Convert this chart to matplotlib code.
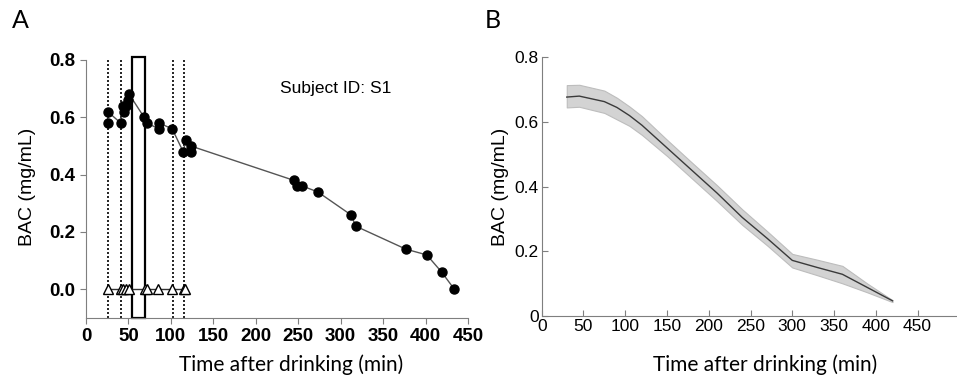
import matplotlib
matplotlib.use("Agg")
import matplotlib.pyplot as plt
from matplotlib.patches import Rectangle

# ---------------- Panel A data ----------------
bac_time = [25.5, 25.5, 41, 43, 45, 47, 49, 51, 68.5, 71.5, 86, 86, 101.5,
            114.5, 117.5, 123.5, 123.5, 245, 249, 255, 273, 312, 318, 377,
            401.5, 419, 434]
bac_value = [0.58, 0.62, 0.58, 0.64, 0.62, 0.64, 0.66, 0.68, 0.60, 0.58, 0.56,
             0.58, 0.56, 0.48, 0.52, 0.48, 0.50, 0.38, 0.36, 0.36, 0.34, 0.26,
             0.22, 0.14, 0.12, 0.06, 0.0]
tri_time = [26, 41, 44, 47, 51, 69, 72, 85, 101, 115.5, 117]
tri_value = [0, 0, 0, 0, 0, 0, 0, 0, 0, 0, 0]
event_lines = [25.5, 41, 102, 115]
drink_start, drink_end = 54, 69
subject_label = "Subject ID: S1"

# ---------------- Panel B data ----------------
mean_time = [30, 45, 75, 90, 105, 120, 150, 180, 210, 240, 270, 300, 330, 360,
             390, 420]
mean_bac = [0.677, 0.680, 0.663, 0.645, 0.620, 0.590, 0.520, 0.450, 0.380,
            0.305, 0.240, 0.172, 0.150, 0.129, 0.088, 0.047]
upper_bac = [0.714, 0.715, 0.697, 0.675, 0.648, 0.618, 0.545, 0.474, 0.404,
             0.330, 0.262, 0.192, 0.174, 0.155, 0.100, 0.049]
lower_bac = [0.645, 0.647, 0.628, 0.608, 0.588, 0.560, 0.495, 0.425, 0.355,
             0.282, 0.218, 0.150, 0.126, 0.101, 0.073, 0.043]

xticks = [0, 50, 100, 150, 200, 250, 300, 350, 400, 450]
yticks_a = [0.0, 0.2, 0.4, 0.6, 0.8]
yticks_b = [0, 0.2, 0.4, 0.6, 0.8]

W, H = 957, 380
fig = plt.figure(figsize=(W / 100, H / 100), dpi=100)

def box(l, r, t, b):
    return [l / W, 1 - b / H, (r - l) / W, (b - t) / H]

axA = fig.add_axes(box(86, 468, 60, 318))
axB = fig.add_axes(box(541.7, 956, 57.3, 316))

spine_col = "#7f7f7f"
arial = "Liberation Sans"
lab_font = "Lato"

# ---- Panel A ----
for x in event_lines:
    axA.plot([x, x], [-0.1, 0.8], color="black", linestyle=(0, (1.2, 1.2)),
             lw=1.2, zorder=1)
axA.add_patch(Rectangle((drink_start, -0.1), drink_end - drink_start, 0.91,
                        fill=False, edgecolor="black", lw=1.6, zorder=2,
                        clip_on=False))
axA.plot(bac_time, bac_value, color="#555555", lw=1.0, zorder=3)
axA.plot(bac_time, bac_value, linestyle="none", marker="o", markersize=6.5,
         color="black", zorder=4)
axA.plot(tri_time, tri_value, color="#333333", lw=1.0, zorder=3)
axA.plot(tri_time, tri_value, linestyle="none", marker="^", markersize=7,
         markerfacecolor="white", markeredgecolor="black", markeredgewidth=1.0,
         zorder=4)
axA.text(228, 0.685, subject_label, fontsize=12.5, family=arial)

axA.set_xlim(0, 450)
axA.set_ylim(-0.1, 0.8)
axA.set_xticks(xticks)
axA.set_yticks(yticks_a)
axA.set_yticklabels([f"{v:.1f}" for v in yticks_a])
for s in ["top", "right"]:
    axA.spines[s].set_visible(False)
for s in ["left", "bottom"]:
    axA.spines[s].set_color(spine_col)
axA.tick_params(direction="out", length=4, color=spine_col, labelsize=13.5)
for lab in axA.get_xticklabels() + axA.get_yticklabels():
    lab.set_fontweight("bold")
    lab.set_family(arial)
axA.set_xlabel("Time after drinking (min)", fontsize=15, family=lab_font)
axA.set_ylabel("BAC (mg/mL)", fontsize=14, family=arial)
axA.xaxis.set_label_coords(0.537, -0.182)
axA.xaxis.label.set_va("center")
axA.yaxis.set_label_coords(-0.152, 0.509)
axA.yaxis.label.set_va("center")

# ---- Panel B ----
axB.fill_between(mean_time, lower_bac, upper_bac, facecolor="#d3d3d3",
                 edgecolor="#bdbdbd", lw=0.8)
axB.plot(mean_time, mean_bac, color="#3a3a3a", lw=1.0)
axB.set_xlim(0, 496)
axB.set_ylim(0, 0.8)
axB.set_xticks(xticks)
axB.set_yticks(yticks_b)
axB.set_yticklabels(["0", "0.2", "0.4", "0.6", "0.8"])
for s in ["top", "right"]:
    axB.spines[s].set_visible(False)
for s in ["left", "bottom"]:
    axB.spines[s].set_color(spine_col)
axB.tick_params(direction="in", length=4, color=spine_col, labelsize=12.5,
                pad=2)
for lab in axB.get_xticklabels() + axB.get_yticklabels():
    lab.set_family(arial)
axB.set_xlabel("Time after drinking (min)", fontsize=15, family=lab_font)
axB.set_ylabel("BAC (mg/mL)", fontsize=14, family=arial)
axB.xaxis.set_label_coords(0.54, -0.19)
axB.xaxis.label.set_va("center")
axB.yaxis.set_label_coords(-0.1, 0.499)
axB.yaxis.label.set_va("center")

fig.text(20 / W, 1 - 21 / H, "A", fontsize=18, family=lab_font,
         ha="center", va="center")
fig.text(493 / W, 1 - 21 / H, "B", fontsize=18, family=lab_font,
         ha="center", va="center")

fig.savefig("out.png", dpi=100)
